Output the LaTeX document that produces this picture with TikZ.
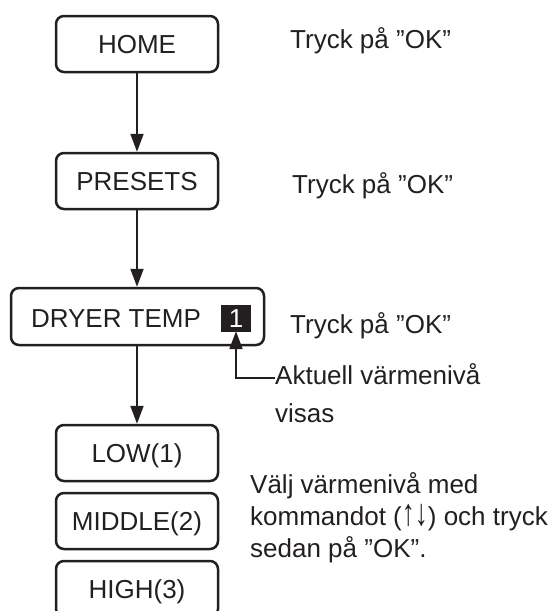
\documentclass[tikz,border=0pt]{standalone}
\usepackage{fontspec}
\usepackage{graphicx}
\setmainfont{Liberation Sans}
\usetikzlibrary{arrows.meta}
\definecolor{ink}{HTML}{231F20}
\newcommand{\updownarr}{\scalebox{1}[1.45]{↑↓}}
\begin{document}
\begin{tikzpicture}[x=1pt,y=-1pt,
  font=\fontsize{26}{32}\selectfont,
  menubox/.style={draw=ink, line width=2.5pt, rounded corners=8pt, text=ink,
    minimum width=162pt, minimum height=56pt, inner sep=0pt,
    text height=18.6pt, text depth=0pt},
  flow/.style={draw=ink, line width=2pt, -{Triangle[length=18pt,width=13pt]}},
  note/.style={anchor=base west, inner sep=0pt, text=ink}]
\useasboundingbox (0,0) rectangle (554,611);
\clip (0,0) rectangle (554,611);

\node[menubox] (home) at (137,44) {HOME};
\node[menubox] (presets) at (137,181) {PRESETS};
\node[menubox, minimum width=253pt, minimum height=57pt] (dryer) at (137.5,316.5) {};
\node[anchor=base, inner sep=0pt, text=ink] (dryertxt) at (116,327) {DRYER TEMP};
\node[fill=ink, minimum width=30pt, minimum height=27pt, inner sep=0pt, text=white,
  text height=18.6pt, text depth=0pt] (one) at (236,318.5) {1};
\node[menubox] (low) at (137,453) {LOW(1)};
\node[menubox] (middle) at (137,521) {MIDDLE(2)};
\node[menubox] (high) at (137,589) {HIGH(3)};

\draw[flow] (home.south) -- (presets.north);
\draw[flow] (presets.south) -- (dryer.north -| presets.south);
\draw[flow] (dryer.south -| presets.south) -- (low.north);

\node[note] (t1) at (290,48) {Tryck på ”OK”};
\node[note] (t2) at (292,193) {Tryck på ”OK”};
\node[note] (t3) at (290,333) {Tryck på ”OK”};

\node[note] (akt) at (275,384) {Aktuell värmenivå};
\node[note] (visas) at (275,422) {visas};
\coordinate (ak) at (275,378);
\draw[flow, shorten >=-1pt] (ak) -| (one.south);

\node[note] (v1) at (250,493) {Välj värmenivå med};
\node[note] (v2) at (250,525) {kommandot (\updownarr) och tryck};
\node[note] (v3) at (250,557) {sedan på ”OK”.};
\end{tikzpicture}
\end{document}
